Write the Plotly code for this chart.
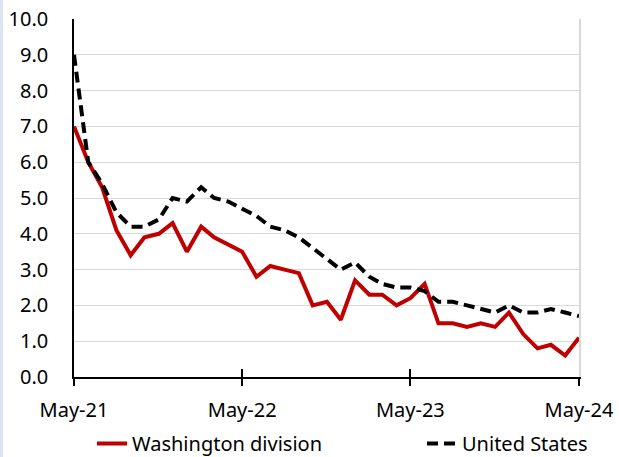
import plotly.graph_objects as go
import pandas as pd

months = pd.date_range("2021-05-01", "2024-05-01", freq="MS")

washington = [7.0, 6.0, 5.3, 4.1, 3.4, 3.9, 4.0, 4.3, 3.5, 4.2, 3.9, 3.7,
              3.5, 2.8, 3.1, 3.0, 2.9, 2.0, 2.1, 1.6, 2.7, 2.3, 2.3, 2.0,
              2.2, 2.6, 1.5, 1.5, 1.4, 1.5, 1.4, 1.8, 1.2, 0.8, 0.9, 0.6,
              1.1]
united_states = [9.0, 6.0, 5.4, 4.6, 4.2, 4.2, 4.4, 5.0, 4.9, 5.3, 5.0, 4.9,
                 4.7, 4.5, 4.2, 4.1, 3.9, 3.6, 3.3, 3.0, 3.2, 2.8, 2.6, 2.5,
                 2.5, 2.4, 2.1, 2.1, 2.0, 1.9, 1.8, 2.0, 1.8, 1.8, 1.9, 1.8,
                 1.7]

tick_dates = ["2021-05-01", "2022-05-01", "2023-05-01", "2024-05-01"]
tick_labels = ["May-21", "May-22", "May-23", "May-24"]
y_ticks = [0, 1, 2, 3, 4, 5, 6, 7, 8, 9, 10]

FONT = "Noto Sans"

fig = go.Figure()
fig.add_trace(go.Scatter(x=months, y=washington, mode="lines",
                         name="Washington division", legend="legend",
                         line=dict(color="#C00000", width=4)))
fig.add_trace(go.Scatter(x=months, y=united_states, mode="lines",
                         name="United States", legend="legend2",
                         line=dict(color="#000000", width=4, dash="11px,6px")))

W, H = 619, 457
ml, mr, mt, mb = 74, 40, 19, 80
pw = W - ml - mr
ph = H - mt - mb

leg_common = dict(orientation="h", xanchor="left", yanchor="top",
                  y=-(424 - 377) / ph, font=dict(size=20), itemwidth=30,
                  borderwidth=0, bgcolor="rgba(0,0,0,0)")

fig.update_layout(
    width=W, height=H,
    margin=dict(l=ml, r=mr, t=mt, b=mb, autoexpand=False),
    paper_bgcolor="white", plot_bgcolor="white",
    font=dict(family=FONT, size=20, color="#000000"),
    showlegend=True,
    legend=dict(x=(92 - ml) / pw, **leg_common),
    legend2=dict(x=(422 - ml) / pw, **leg_common),
    xaxis=dict(
        range=[months[0], months[-1]],
        tickvals=tick_dates, ticktext=tick_labels,
        showline=True, linecolor="#000000", linewidth=1.5,
        ticks="outside", ticklen=7, tickcolor="#000000", tickwidth=1.5,
        showgrid=False, zeroline=False, automargin=False,
        ticklabelstandoff=7,
        tickfont=dict(size=20),
    ),
    xaxis2=dict(
        overlaying="x", range=[months[0], months[-1]],
        tickvals=tick_dates, ticktext=["", "", "", ""],
        ticks="inside", ticklen=8, tickcolor="#000000", tickwidth=1.5,
        showline=False, showgrid=False, zeroline=False, side="bottom",
        automargin=False,
    ),
    yaxis=dict(
        range=[0, 10], tickvals=y_ticks, tickformat=".1f",
        showline=True, linecolor="#000000", linewidth=1.5,
        showgrid=True, gridcolor="#D9D9D9", gridwidth=1.2,
        zeroline=False, ticks="", ticklabelstandoff=20, automargin=False,
        tickfont=dict(size=20),
    ),
    yaxis2=dict(
        overlaying="y", side="right", range=[0, 10],
        showline=True, linecolor="#D9D9D9", linewidth=1.5,
        showticklabels=False, showgrid=False, zeroline=False, ticks="",
        automargin=False,
    ),
    shapes=[dict(type="rect", xref="paper", yref="paper",
                 x0=-ml / pw, x1=(-ml + 3) / pw,
                 y0=-mb / ph, y1=1 + mt / ph,
                 fillcolor="#DCE6F2", line=dict(width=0), layer="above")],
)

# invisible helper trace so the overlay axes are drawn
fig.add_trace(go.Scatter(x=[months[0]], y=[None], xaxis="x2", yaxis="y2",
                         showlegend=False, hoverinfo="skip"))

fig.write_html("out.html",
               config={"displayModeBar": False},
               post_script="document.body.style.margin='0px';"
                           "document.body.style.overflow='hidden';")
